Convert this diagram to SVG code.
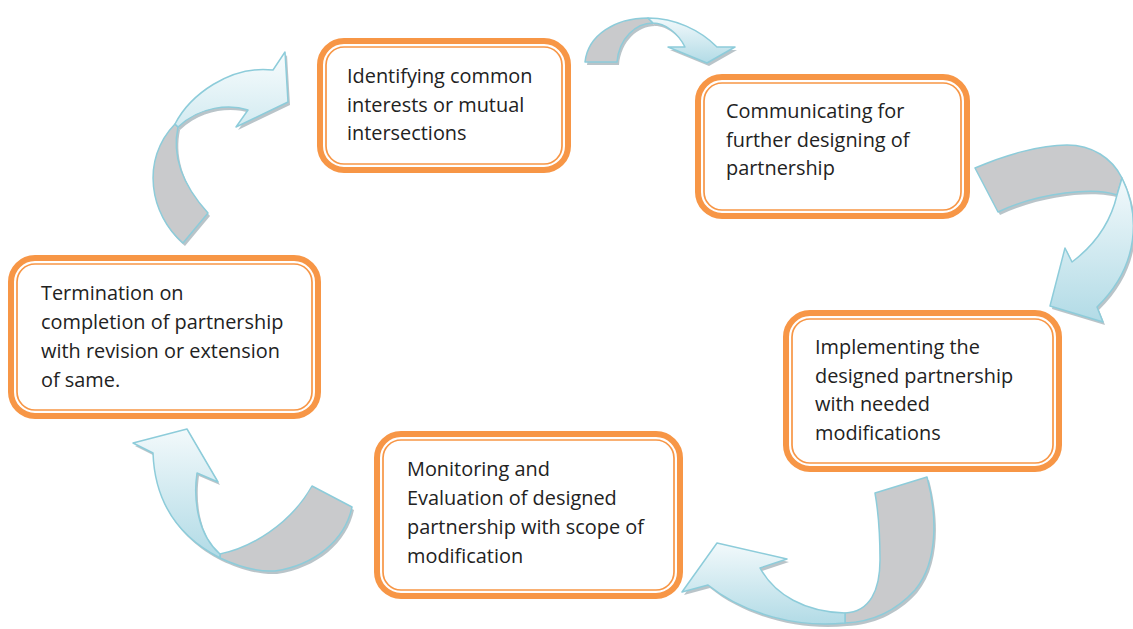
<svg xmlns="http://www.w3.org/2000/svg" xmlns:xlink="http://www.w3.org/1999/xlink" width="1133" height="629" viewBox="0 0 1133 629">
<style>
.outer{fill:#fff;stroke:#F79646;stroke-width:6}
.inner{fill:none;stroke:#F79646;stroke-width:1.7}
.t{font-family:"Open Sans","Liberation Sans",sans-serif;font-size:19.9px;fill:#222}
.sh{fill:#7f949c;opacity:.55}
.gray{fill:#C9CACC;stroke:#8DCCDA;stroke-width:1.5;stroke-linejoin:round}
.blue{fill:url(#bg);stroke:#8DCCDA;stroke-width:1.5;stroke-linejoin:round}
.pale{fill:url(#pg);stroke:#8DCCDA;stroke-width:1.5;stroke-linejoin:round}
</style>
<defs>
<linearGradient id="bg" x1="0" y1="0" x2="0" y2="1">
<stop offset="0" stop-color="#F2F9FB"/>
<stop offset="1" stop-color="#B2DBE6"/>
</linearGradient>
<linearGradient id="pg" x1="0" y1="0" x2="0" y2="1">
<stop offset="0" stop-color="#F8FCFD"/>
<stop offset="1" stop-color="#D3EBF1"/>
</linearGradient>
<path id="aG" d="M585,62 C588,35 615,18 648,18 L653,23 C636,23 619,38 617,62 Z"/>
<path id="aB" d="M648,18 C675,18 700,30 717,47 L735,47 L707,63 L668,47 L685,47 C678,33 665,23 653,23 Z"/>
<path id="bG" d="M975,168 C1005,155 1040,145 1067,145 C1092,145 1112,158 1122,178 L1117,195 C1095,187 1040,192 998,212 Z"/>
<path id="bB" d="M1122,178 C1140,215 1140,265 1097,307 L1103,322 L1050,306 L1065,248 L1072,262 C1092,247 1110,225 1117,195 Z"/>
<path id="cG" d="M875,493 L927,477 C936,510 940,560 915,590 C895,612 870,622 845,623 L845,613 C870,612 880,590 880,560 C880,535 878,510 875,493 Z"/>
<path id="cB" d="M845,623 C800,628 745,615 708,585 L682,592 L717,543 L787,559 L760,568 C775,595 805,612 845,613 Z"/>
<path id="dG" d="M352,507 C345,540 315,565 275,571 C255,572 235,565 220,558 L220,554 C250,548 290,525 312,486 Z"/>
<path id="dB" d="M220,558 C185,540 155,510 153,453 L133,443 L187,429 L218,482 L197,473 C193,500 198,535 220,554 Z"/>
<path id="eG" d="M183,243 C150,215 140,160 175,124 L178,127 C173,150 178,180 208,213 Z"/>
<path id="eB" d="M175,124 C190,95 230,65 273,70 L285,52 L288,102 L236,127 L248,110 C230,104 200,106 178,127 Z"/>
</defs>
<rect width="1133" height="629" fill="#fff"/>
<g id="connectors">
<g id="arrow-1-2">
<use xlink:href="#aG" class="sh" transform="translate(2,3)"/><use xlink:href="#aB" class="sh" transform="translate(2,3)"/>
<use xlink:href="#aG" class="gray"/><use xlink:href="#aB" class="blue"/>
</g>
<g id="arrow-2-3">
<use xlink:href="#bG" class="sh" transform="translate(2,3)"/><use xlink:href="#bB" class="sh" transform="translate(2,3)"/>
<use xlink:href="#bG" class="gray"/><use xlink:href="#bB" class="blue"/>
</g>
<g id="arrow-3-4">
<use xlink:href="#cG" class="sh" transform="translate(2,3)"/><use xlink:href="#cB" class="sh" transform="translate(2,3)"/>
<use xlink:href="#cG" class="gray"/><use xlink:href="#cB" class="blue"/>
</g>
<g id="arrow-4-5">
<use xlink:href="#dG" class="sh" transform="translate(2,3)"/><use xlink:href="#dB" class="sh" transform="translate(2,3)"/>
<use xlink:href="#dG" class="gray"/><use xlink:href="#dB" class="blue"/>
</g>
<g id="arrow-5-1">
<use xlink:href="#eG" class="sh" transform="translate(2,3)"/><use xlink:href="#eB" class="sh" transform="translate(2,3)"/>
<use xlink:href="#eG" class="gray"/><use xlink:href="#eB" class="pale"/>
</g>
</g>
<g id="node1">
<rect class="outer" x="320" y="41" width="248" height="129" rx="24"/>
<rect class="inner" x="326" y="47" width="236" height="117" rx="18"/>
<text class="t"><tspan x="347" y="83">Identifying common</tspan><tspan x="347" y="112">interests or mutual</tspan><tspan x="347" y="140">intersections</tspan></text>
</g>
<g id="node2">
<rect class="outer" x="698" y="77" width="269" height="139" rx="24"/>
<rect class="inner" x="704" y="83" width="257" height="127" rx="18"/>
<text class="t"><tspan x="726" y="118">Communicating for</tspan><tspan x="726" y="147">further designing of</tspan><tspan x="726" y="175">partnership</tspan></text>
</g>
<g id="node3">
<rect class="outer" x="786" y="313" width="273" height="156" rx="24"/>
<rect class="inner" x="792" y="319" width="261" height="144" rx="18"/>
<text class="t"><tspan x="815" y="354">Implementing the</tspan><tspan x="815" y="383">designed partnership</tspan><tspan x="815" y="411">with needed</tspan><tspan x="815" y="440">modifications</tspan></text>
</g>
<g id="node4">
<rect class="outer" x="377" y="434" width="303" height="162" rx="24"/>
<rect class="inner" x="383" y="440" width="291" height="150" rx="18"/>
<text class="t"><tspan x="407" y="476">Monitoring and</tspan><tspan x="407" y="505">Evaluation of designed</tspan><tspan x="407" y="534">partnership with scope of</tspan><tspan x="407" y="563">modification</tspan></text>
</g>
<g id="node5">
<rect class="outer" x="11" y="258" width="307" height="158" rx="24"/>
<rect class="inner" x="17" y="264" width="295" height="146" rx="18"/>
<text class="t"><tspan x="41" y="300">Termination on</tspan><tspan x="41" y="329">completion of partnership</tspan><tspan x="41" y="358">with revision or extension</tspan><tspan x="41" y="387">of same.</tspan></text>
</g>
</svg>
